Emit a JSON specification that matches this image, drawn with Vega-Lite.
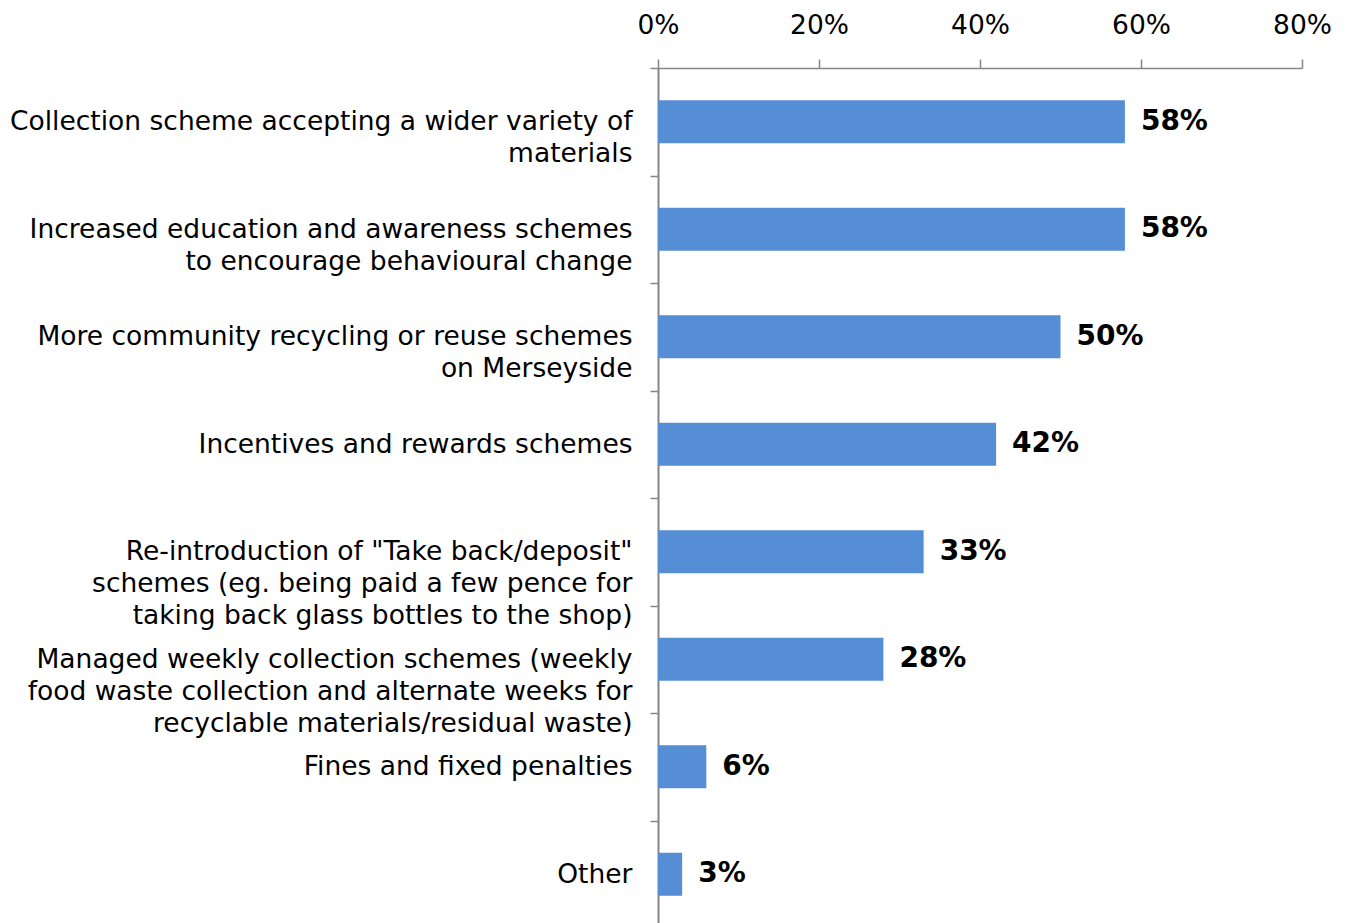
{
  "$schema": "https://vega.github.io/schema/vega-lite/v6.json",
  "autosize": "none",
  "padding": {"top": 68, "left": 658, "right": 46, "bottom": 0},
  "width": 644,
  "height": 855,
  "background": "white",
  "config": {"view": {"stroke": null}, "font": "DejaVu Sans"},
  "data": {"values": [
    {"label": "Collection scheme accepting a wider variety of|materials", "value": 0.58},
    {"label": "Increased education and awareness schemes|to encourage behavioural change", "value": 0.58},
    {"label": "More community recycling or reuse schemes|on Merseyside", "value": 0.50},
    {"label": "Incentives and rewards schemes", "value": 0.42},
    {"label": "Re-introduction of \"Take back/deposit\"|schemes (eg. being paid a few pence for|taking back glass bottles to the shop)", "value": 0.33},
    {"label": "Managed weekly collection schemes (weekly|food waste collection and alternate weeks for|recyclable materials/residual waste)", "value": 0.28},
    {"label": "Fines and fixed penalties", "value": 0.06},
    {"label": "Other", "value": 0.03}
  ]},
  "encoding": {
    "y": {
      "field": "label", "type": "nominal", "sort": null,
      "scale": {"paddingInner": 0, "paddingOuter": 0, "range": [0, 860]},
      "axis": {
        "title": null,
        "labelExpr": "split(datum.label, '|')",
        "labelFont": "DejaVu Sans", "labelFontSize": 26.5, "labelColor": "black",
        "labelLineHeight": 32, "labelAlign": "right", "labelPadding": 18, "labelLimit": 0,
        "tickBand": "extent", "tickSize": 8, "tickColor": "#868686",
        "domainColor": "#868686", "domainWidth": 2, "tickWidth": 1.5
      }
    },
    "x": {
      "field": "value", "type": "quantitative",
      "scale": {"domain": [0, 0.8], "nice": false},
      "axis": {
        "orient": "top", "title": null, "format": ".0%",
        "values": [0, 0.2, 0.4, 0.6, 0.8], "grid": false, "labelFlush": false,
        "labelFont": "DejaVu Sans", "labelFontSize": 26.5, "labelColor": "black",
        "labelBaseline": "alphabetic", "labelPadding": 25.5,
        "tickSize": 9, "tickColor": "#868686", "tickWidth": 1.5,
        "domainColor": "#868686", "domainWidth": 1.5
      }
    }
  },
  "layer": [
    {"mark": {"type": "bar", "color": "#558ED5", "height": {"band": 0.4}}},
    {"mark": {"type": "text", "align": "left", "baseline": "middle", "dx": 16, "fontSize": 28, "fontWeight": "bold", "font": "DejaVu Sans", "color": "black"},
     "encoding": {"text": {"field": "value", "type": "quantitative", "format": ".0%"}}}
  ]
}
